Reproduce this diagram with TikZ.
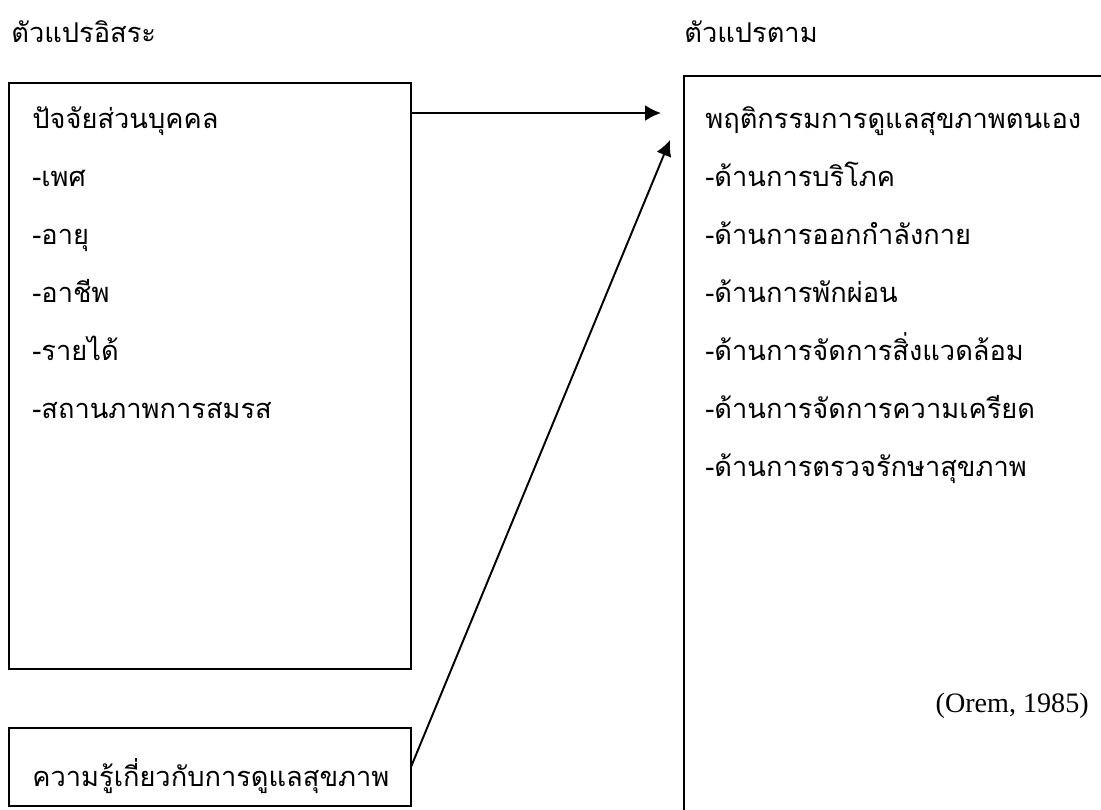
\documentclass[tikz,border=0pt]{standalone}
\usepackage{fontspec}
\setmainfont{Liberation Serif}
\newfontfamily\thaifont[Script=Thai]{Loma}
\usetikzlibrary{arrows.meta}

\tikzset{
  box/.style={draw, line width=1.1pt, inner sep=0pt, outer sep=0pt},
  item/.style={anchor=base west, inner sep=0pt, font=\thaifont\fontsize{15.5}{19}\selectfont},
  arr/.style={line width=1.1pt, -{Latex[length=9pt,width=9pt]}}
}

\begin{document}
\begin{tikzpicture}[x=0.02cm,y=-0.02cm]
            \useasboundingbox (0,0) rectangle (1101,809);

            % headings
            \node[item] (indep) at (11,42) {ตัวแปรอิสระ};
            \node[item] (dep) at (684,42) {ตัวแปรตาม};

            % left boxes
            \node[box, minimum width=8.04cm, minimum height=11.72cm] (personal) at (210,376) {};
            \node[item] (p0) at (32,128) {ปัจจัยส่วนบุคคล};
            \node[item] (p1) at (32,186) {-เพศ};
            \node[item] (p2) at (32,244) {-อายุ};
            \node[item] (p3) at (32,302) {-อาชีพ};
            \node[item] (p4) at (32,360) {-รายได้};
            \node[item] (p5) at (32,418) {-สถานภาพการสมรส};

            \node[box, minimum width=8.04cm, minimum height=1.56cm] (knowledge) at (210,767) {};
            \node[item] (k0) at (32,786) {ความรู้เกี่ยวกับการดูแลสุขภาพ};

            % right box
            \node[box, minimum width=9.52cm, minimum height=15.88cm] (behaviour) at (922,473) {};
            \node[item] (b0) at (705,128) {พฤติกรรมการดูแลสุขภาพตนเอง};
            \node[item] (b1) at (705,186) {-ด้านการบริโภค};
            \node[item] (b2) at (705,244) {-ด้านการออกกำลังกาย};
            \node[item] (b3) at (705,302) {-ด้านการพักผ่อน};
            \node[item] (b4) at (705,360) {-ด้านการจัดการสิ่งแวดล้อม};
            \node[item] (b5) at (705,418) {-ด้านการจัดการความเครียด};
            \node[item] (b6) at (705,476) {-ด้านการตรวจรักษาสุขภาพ};
            \node[anchor=base east, inner sep=0pt, font=\fontsize{16}{19}\selectfont] (src) at (1089,712) {(Orem, 1985)};

            % arrows
            \coordinate (selftip) at (661,113);
            \coordinate (knowtip) at (670,140);
            \draw[arr] (selftip -| personal.east) -- (selftip);
            \draw[arr] (knowledge.east) -- (knowtip);

\end{tikzpicture}
\end{document}
